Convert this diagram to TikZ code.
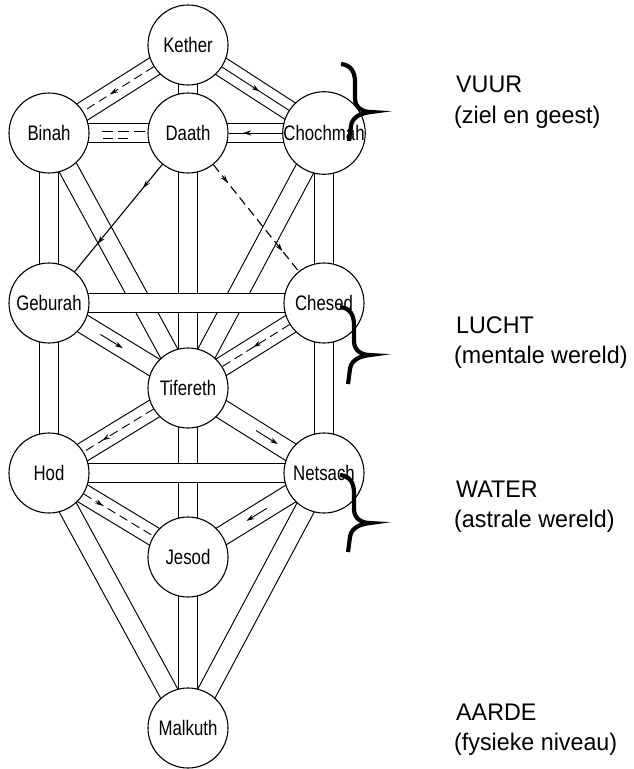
\documentclass[tikz,border=0pt]{standalone}
\usepackage{fontspec}
\setmainfont{Liberation Sans}
\newfontfamily\nodefont[FakeStretch=0.8]{Liberation Sans}
\newfontfamily\labfont[FakeStretch=0.97]{Liberation Sans}
\usetikzlibrary{arrows.meta,decorations.markings,calc}
\pgfdeclarelayer{bg}
\pgfsetlayers{bg,main}
\tikzset{
  sef/.style={circle,draw,line width=1.1pt,fill=white,minimum size=80pt,inner sep=0pt,
    font=\nodefont\fontsize{21}{24}\selectfont},
  band/.style={draw=black,line width=1.1pt,double=white,double distance=18.2pt},
  cl/.style={line width=0.9pt},
  single/.style={line width=1.1pt},
  dsh/.style={dash pattern=on 9pt off 5pt},
  tipx/.tip={Stealth[length=8pt,width=5pt]},
  marr/.style={decoration={markings,mark=at position #1 with {\pgfsetdash{}{0pt}\arrow{tipx}}},postaction={decorate}},
  marrtwo/.style 2 args={decoration={markings,
      mark=at position #1 with {\pgfsetdash{}{0pt}\arrow{tipx}},
      mark=at position #2 with {\pgfsetdash{}{0pt}\arrow{tipx}}},postaction={decorate}},
  lab/.style={anchor=base west,inner sep=0pt,font=\labfont\fontsize{24}{28}\selectfont},
  bigbrace/.pic={\draw[line width=4.2pt]
     (-30,-48) .. controls (-20,-47) and (-16,-40) .. (-16,-30) -- (-16,-14)
     .. controls (-16,-4) and (-8,0) .. (0,0)
     .. controls (-10,1) and (-19,5) .. (-20,14) -- (-22,29);}
}
\begin{document}
\begin{tikzpicture}[x=1pt,y=-1pt]
\useasboundingbox (0,0) rectangle (633,769);
% sephiroth
\node[sef] (kether)   at (188,45)  {Kether};
\node[sef] (binah)    at (49,133)  {Binah};
\node[sef] (daath)    at (188,133) {Daath};
\node[sef] (chochmah) at (324,133) {Chochmah};
\node[sef] (geburah)  at (49,303)  {Geburah};
\node[sef] (chesed)   at (324,303) {Chesed};
\node[sef] (tifereth) at (188,388) {Tifereth};
\node[sef] (hod)      at (49,473)  {Hod};
\node[sef] (netsach)  at (324,473) {Netsach};
\node[sef] (jesod)    at (188,557) {Jesod};
\node[sef] (malkuth)  at (188,728) {Malkuth};
% paths (bands)
\begin{pgfonlayer}{bg}
\draw[band] (kether.center) -- (binah.center);
\draw[band] (kether.center) -- (chochmah.center);
\draw[band] (kether.center) -- (daath.center);
\draw[band] (binah.center) -- (geburah.center);
\draw[band] (chochmah.center) -- (chesed.center);
\draw[band] (binah.center) -- (tifereth.center);
\draw[band] (chochmah.center) -- (tifereth.center);
\draw[band] (daath.center) -- (tifereth.center);
\draw[band] (geburah.center) -- (hod.center);
\draw[band] (chesed.center) -- (netsach.center);
\draw[band] (geburah.center) -- (tifereth.center);
\draw[band] (chesed.center) -- (tifereth.center);
\draw[band] (tifereth.center) -- (hod.center);
\draw[band] (tifereth.center) -- (netsach.center);
\draw[band] (tifereth.center) -- (jesod.center);
\draw[band] (hod.center) -- (jesod.center);
\draw[band] (netsach.center) -- (jesod.center);
\draw[band] (hod.center) -- (malkuth.center);
\draw[band] (netsach.center) -- (malkuth.center);
\draw[band] (jesod.center) -- (malkuth.center);
\draw[band] (binah.center) -- (daath.center);
\draw[band] (daath.center) -- (chochmah.center);
\draw[band] (geburah.center) -- (chesed.center);
\draw[band] (hod.center) -- (netsach.center);
\end{pgfonlayer}
% centre lines with arrows
\draw[cl,dsh,marr=0.62] (kether) -- (binah);
\draw[cl,marr=0.56] (kether) -- (chochmah);
\draw[cl,marr=0.73] (chochmah) -- (daath);
\draw[cl,dash pattern=on 11pt off 5pt] ($(binah.center)+(53,-2)$) -- ($(binah.center)+(97,-2)$);
\draw[cl,dash pattern=on 10pt off 5pt] ($(binah.center)+(54,5)$) -- ($(binah.center)+(79,5)$);
\draw[cl,-tipx] ($(geburah)!0.37!(tifereth)$) -- ($(geburah)!0.53!(tifereth)$);
\draw[cl,dsh,marr=0.54] (chesed) -- (tifereth);
\draw[cl,dsh,marr=0.73] (tifereth) -- (hod);
\draw[cl,-tipx] ($(tifereth)!0.5!(netsach)$) -- ($(tifereth)!0.66!(netsach)$);
\draw[cl,dsh,marr=0.28] (hod) -- (jesod);
\draw[cl,-tipx] ($(netsach)!0.42!(jesod)$) -- ($(netsach)!0.57!(jesod)$);
% lightning lines
\draw[single,marrtwo={0.22}{0.74}] (daath) -- (geburah);
\draw[single,dsh,marrtwo={0.17}{0.81}] (daath) -- (chesed);
% braces
\pic at (371,112) {bigbrace};
\pic at (370,355) {bigbrace};
\pic at (370,523) {bigbrace};
% labels
\node[lab] (vuur)  at (456,92)  {VUUR};
\node[lab] (vuurb) at (454,123) {(ziel en geest)};
\node[lab] (lucht) at (456,333) {LUCHT};
\node[lab] (luchtb) at (454,363) {(mentale wereld)};
\node[lab] (water) at (456,497) {WATER};
\node[lab] (waterb) at (454,527) {(astrale wereld)};
\node[lab] (aarde) at (456,720) {AARDE};
\node[lab] (aardeb) at (454,750) {(fysieke niveau)};
\end{tikzpicture}
\end{document}
